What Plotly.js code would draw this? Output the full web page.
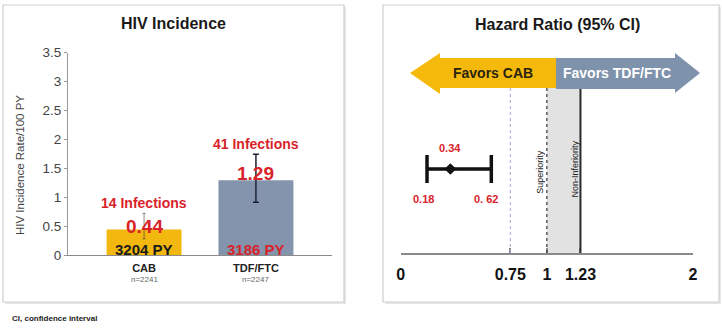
<!DOCTYPE html>
<html>
<head>
<meta charset="utf-8">
<script src="https://cdn.plot.ly/plotly-3.0.1.min.js"></script>
<style>html,body{margin:0;padding:0;background:#fff;}#chart{width:722px;height:328px;}</style>
</head>
<body>
<div id="chart"></div>
<script>
// ---- data ----
const groups = ['CAB', 'TDF/FTC'];
const groupN = [2241, 2247];
const incidence = [0.44, 1.29];
const incidenceLow = [0.28, 0.91];
const incidenceHigh = [0.72, 1.74];
const infections = [14, 41];
const personYears = [3204, 3186];
const hrPoint = [0.34];
const hrLow = [0.18];
const hrHigh = [0.62];
const hrTicks = [0, 0.75, 1, 1.23, 2];
const refLine = 0.75;
const superiorityBound = 1;
const niMargin = 1.23;

// ---- helpers (pixel -> paper) ----
const W = 722, H = 328;
const X = px => px / W;
const Y = py => 1 - py / H;
const FONT = 'Liberation Sans, Arial, sans-serif';
const RED = '#d8232a';
const barColors = ['#f3b80f', '#8494ad'];
const errStyle = [{thickness: 0.6, width: 1.5, color: '#3a3a3a'}, {thickness: 1.5, width: 3, color: '#1c2233'}];

const barTraces = groups.map((g, i) => ({
  type: 'bar', x: [g], y: [incidence[i]], xaxis: 'x', yaxis: 'y',
  width: 0.67,
  marker: {color: barColors[i]},
  error_y: Object.assign({
    type: 'data', symmetric: false,
    array: [incidenceHigh[i] - incidence[i]],
    arrayminus: [incidence[i] - incidenceLow[i]]
  }, errStyle[i]),
  hoverinfo: 'skip', showlegend: false
}));

const hrTrace = {
  type: 'scatter', mode: 'markers', x: hrPoint, y: [84], xaxis: 'x2', yaxis: 'y2',
  marker: {symbol: 'diamond', size: 9, color: '#111'},
  error_x: {
    type: 'data', symmetric: false,
    array: hrPoint.map((v, i) => hrHigh[i] - v),
    arrayminus: hrPoint.map((v, i) => v - hrLow[i]),
    color: '#111', thickness: 3.5, width: 14
  },
  hoverinfo: 'skip', showlegend: false
};

const shapes = [
  {type: 'rect', xref: 'paper', yref: 'paper', x0: X(5), x1: X(346), y0: Y(304), y1: Y(7), line: {width: 0}, fillcolor: '#e6e6e6', layer: 'below'},
  {type: 'rect', xref: 'paper', yref: 'paper', x0: X(3), x1: X(344), y0: Y(302), y1: Y(5), line: {color: '#cfcfcf', width: 1.2}, fillcolor: '#ffffff', layer: 'below'},
  {type: 'rect', xref: 'paper', yref: 'paper', x0: X(385), x1: X(721), y0: Y(304), y1: Y(7), line: {width: 0}, fillcolor: '#e6e6e6', layer: 'below'},
  {type: 'rect', xref: 'paper', yref: 'paper', x0: X(383), x1: X(719), y0: Y(302), y1: Y(5), line: {color: '#cfcfcf', width: 1.2}, fillcolor: '#ffffff', layer: 'below'},
  {type: 'rect', xref: 'x2', yref: 'y2', x0: superiorityBound, x1: niMargin, y0: 0, y1: 165, fillcolor: '#e2e2e2', line: {width: 0}, layer: 'below'},
  {type: 'line', xref: 'x2', yref: 'y2', x0: refLine, x1: refLine, y0: 0, y1: 165, line: {color: '#9ea3dd', width: 1, dash: 'dot'}},
  {type: 'line', xref: 'x2', yref: 'y2', x0: superiorityBound, x1: superiorityBound, y0: 0, y1: 165, line: {color: '#333', width: 1.2, dash: 'dot'}},
  {type: 'line', xref: 'x2', yref: 'y2', x0: niMargin, x1: niMargin, y0: 0, y1: 165, line: {color: '#2a2a2a', width: 2}},
  {type: 'path', xref: 'paper', yref: 'paper', line: {width: 0}, fillcolor: '#f5b90c',
    path: `M ${X(556)} ${Y(58)} L ${X(440)} ${Y(58)} L ${X(440)} ${Y(53)} L ${X(410)} ${Y(73)} L ${X(440)} ${Y(94)} L ${X(440)} ${Y(88)} L ${X(556)} ${Y(88)} Z`},
  {type: 'path', xref: 'paper', yref: 'paper', line: {width: 0}, fillcolor: '#7f92ac',
    path: `M ${X(556)} ${Y(58)} L ${X(675)} ${Y(58)} L ${X(675)} ${Y(53)} L ${X(700)} ${Y(73)} L ${X(675)} ${Y(93)} L ${X(675)} ${Y(89)} L ${X(556)} ${Y(89)} Z`}
];

const ann = [];
const A = o => ann.push(Object.assign({showarrow: false, xanchor: 'center', yanchor: 'middle', font: {family: FONT, size: 12, color: '#111'}}, o));
A({xref: 'paper', yref: 'paper', x: X(173), y: Y(24), text: '<b>HIV Incidence</b>', font: {family: FONT, size: 16, color: '#1a1a1a'}});
A({xref: 'paper', yref: 'paper', x: X(557), y: Y(25), text: '<b>Hazard Ratio (95% CI)</b>', font: {family: FONT, size: 16, color: '#1a1a1a'}});
A({xref: 'paper', yref: 'paper', x: X(20), y: Y(165), text: 'HIV Incidence Rate/100 PY', textangle: -90, font: {family: FONT, size: 11.5, color: '#444'}});
groups.forEach((g, i) => {
  A({xref: 'x', yref: 'y', x: g, y: incidenceHigh[i] + (i === 0 ? 0.18 : 0.17), text: `<b>${infections[i]} Infections</b>`, font: {family: FONT, size: 14, color: RED}});
  A({xref: 'x', yref: 'y', x: g, y: incidence[i] + (i === 0 ? 0.05 : 0.12), text: `<b>${incidence[i].toFixed(2)}</b>`, font: {family: FONT, size: 19, color: RED}});
  A({xref: 'x', yref: 'y', x: g, y: 0.1, text: `<b>${personYears[i]} PY</b>`, font: {family: FONT, size: 15, color: i === 0 ? '#1a1a1a' : RED}});
  A({xref: 'x', yref: 'paper', x: g, y: Y(279), text: `n=${groupN[i]}`, font: {family: FONT, size: 8, color: '#666'}});
});
A({xref: 'x2', yref: 'y2', x: hrPoint[0], y: 105, text: `<b>${hrPoint[0].toFixed(2)}</b>`, font: {family: FONT, size: 11, color: RED}});
A({xref: 'x2', yref: 'y2', x: hrLow[0], y: 54, xshift: -4, text: `<b>${hrLow[0].toFixed(2)}</b>`, font: {family: FONT, size: 11, color: RED}});
A({xref: 'x2', yref: 'y2', x: hrHigh[0], y: 54, xshift: -5, text: `<b>${hrHigh[0].toFixed(2).replace('.', '. ')}</b>`, font: {family: FONT, size: 11, color: RED}});
A({xref: 'x2', yref: 'y2', x: superiorityBound, y: 81, xshift: -7, textangle: -90, text: 'Superiority', font: {family: FONT, size: 9, color: '#222'}});
A({xref: 'x2', yref: 'y2', x: niMargin, y: 84, xshift: -5, textangle: -90, text: 'Non-Inferiority', font: {family: FONT, size: 9, color: '#222'}});
A({xref: 'x2', yref: 'y2', x: niMargin, y: -35, text: 'NI margin', font: {family: FONT, size: 8, color: '#555'}});
A({xref: 'paper', yref: 'paper', x: X(493), y: Y(73), text: '<b>Favors CAB</b>', font: {family: FONT, size: 14, color: '#2a2310'}});
A({xref: 'paper', yref: 'paper', x: X(617), y: Y(73), text: '<b>Favors TDF/FTC</b>', font: {family: FONT, size: 14, color: '#ffffff'}});
A({xref: 'paper', yref: 'paper', x: X(10), y: Y(318), xanchor: 'left', text: '<b>CI, confidence interval</b>', font: {family: FONT, size: 8, color: '#222'}});

const layout = {
  width: W, height: H,
  margin: {l: 0, r: 0, t: 0, b: 0},
  paper_bgcolor: '#ffffff', plot_bgcolor: 'rgba(0,0,0,0)',
  font: {family: FONT},
  showlegend: false,
  barmode: 'overlay',
  xaxis: {
    domain: [X(68), X(332)], range: [-0.68, 1.68], anchor: 'y',
    type: 'category', categoryarray: groups,
    showline: true, linecolor: '#8a8a8a', linewidth: 1, showgrid: false, zeroline: false, ticks: '',
    tickvals: groups,
    ticktext: groups.map(g => `<b>${g}</b>`),
    tickfont: {family: FONT, size: 11, color: '#222'},
    ticklabelstandoff: 3,
    fixedrange: true
  },
  yaxis: {
    domain: [Y(255), Y(52.5)], range: [0, 3.5], anchor: 'x',
    dtick: 0.5, showline: true, linecolor: '#9a9a9a', linewidth: 1,
    ticks: 'outside', ticklen: 3, tickcolor: '#9a9a9a',
    showgrid: false, zeroline: false,
    tickfont: {family: FONT, size: 13.5, color: '#444'},
    fixedrange: true
  },
  xaxis2: {
    domain: [X(400.7), X(693)], range: [0, 2], anchor: 'y2',
    tickvals: hrTicks, ticktext: hrTicks.map(v => `<b>${v}</b>`),
    tickfont: {family: FONT, size: 16, color: '#111'},
    showline: true, linecolor: '#8a8a8a', linewidth: 2,
    ticks: 'inside', ticklen: 5, tickwidth: 2, tickcolor: '#8a8a8a',
    showgrid: false, zeroline: false, ticklabelstandoff: 6,
    fixedrange: true
  },
  yaxis2: {
    domain: [Y(253), Y(53)], range: [0, 200], anchor: 'x2', visible: false, fixedrange: true
  },
  shapes: shapes,
  annotations: ann
};

Plotly.newPlot('chart', barTraces.concat([hrTrace]), layout, {displayModeBar: false, staticPlot: true});
</script>
</body>
</html>
